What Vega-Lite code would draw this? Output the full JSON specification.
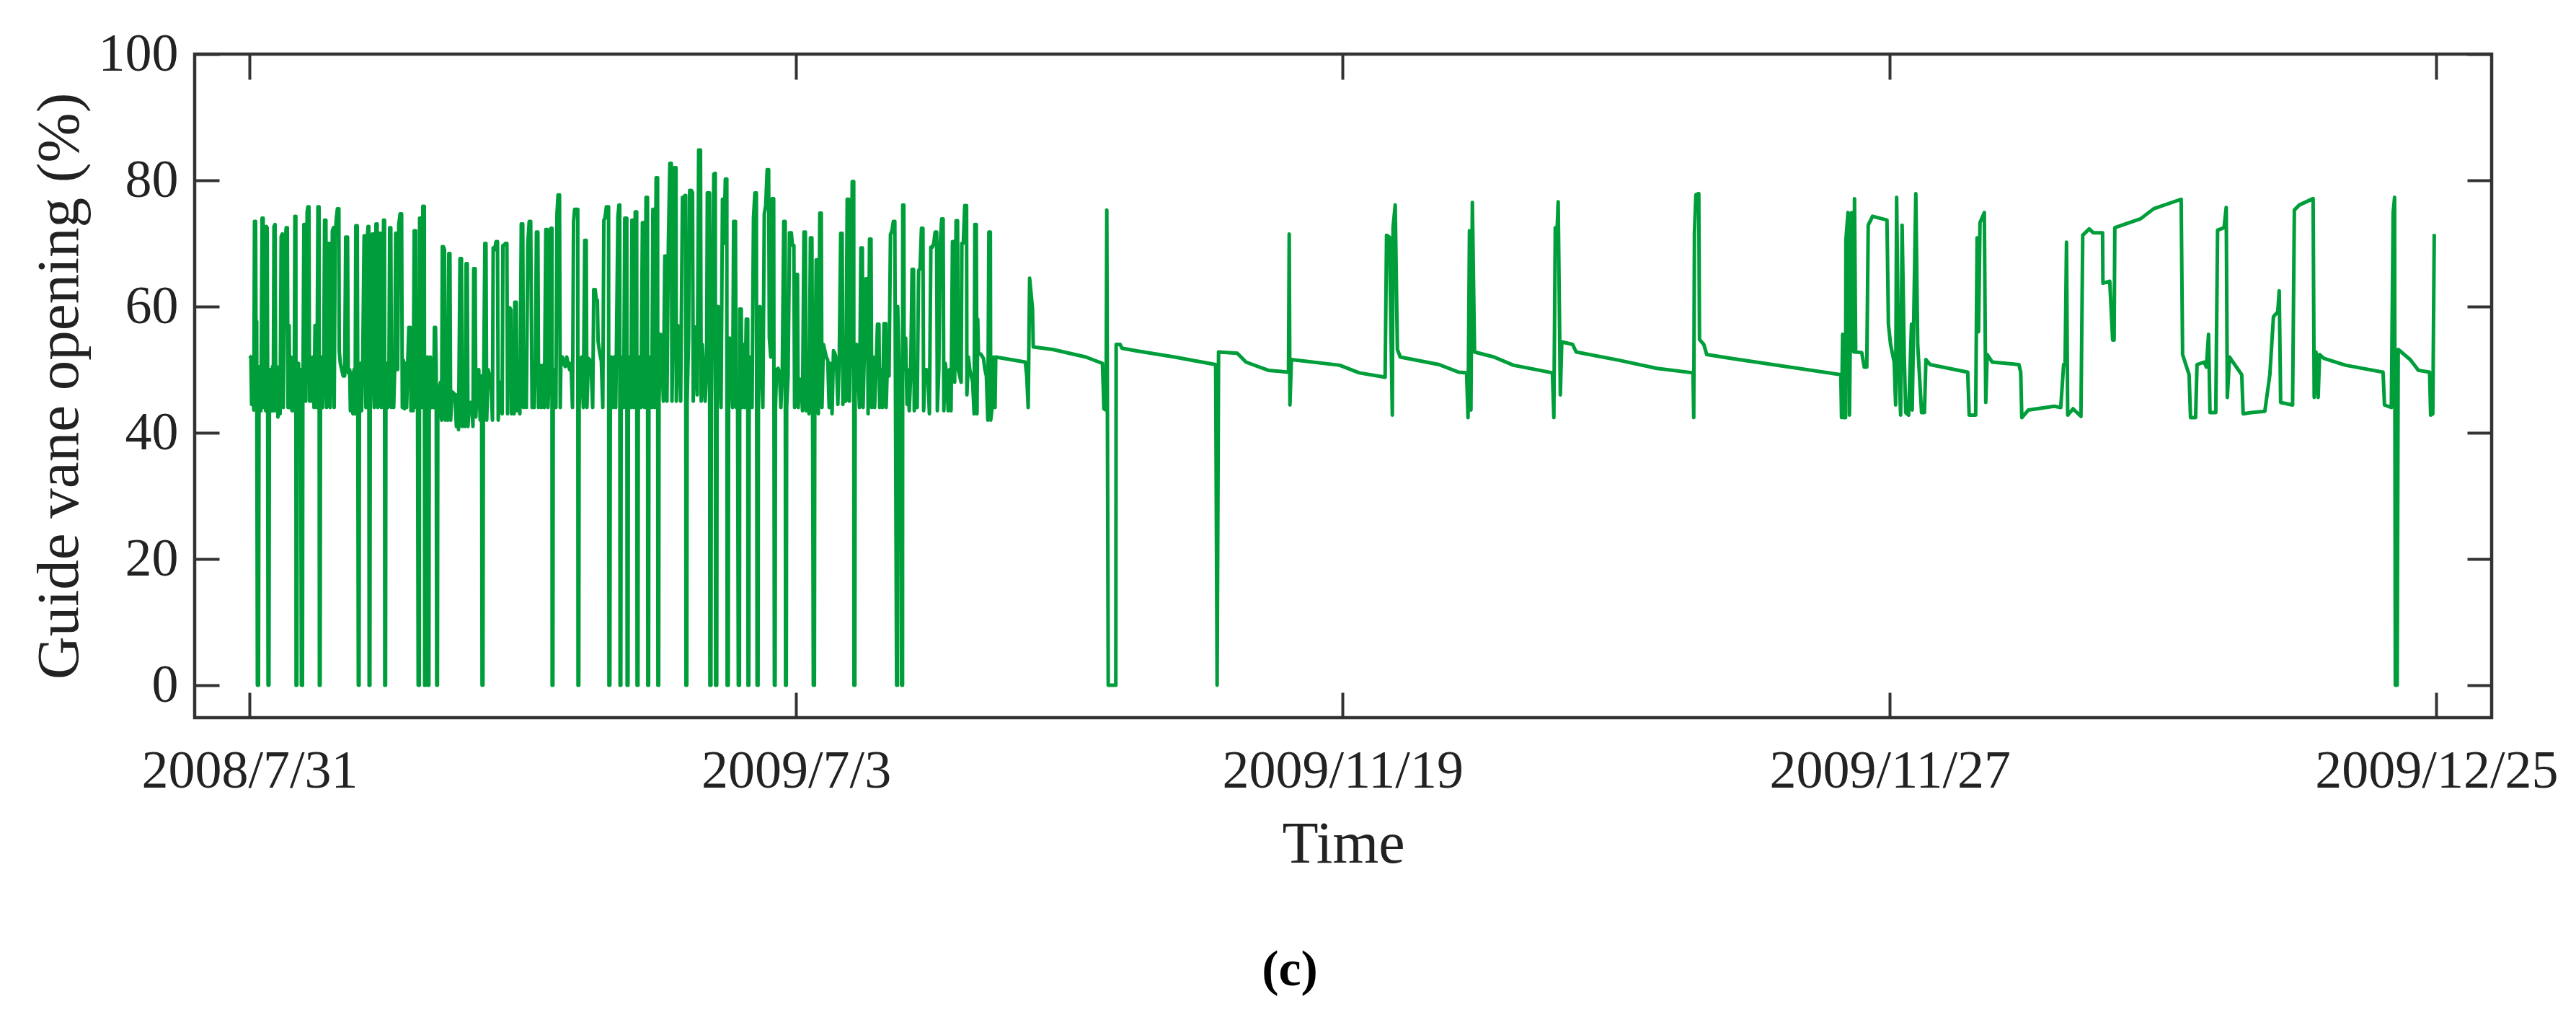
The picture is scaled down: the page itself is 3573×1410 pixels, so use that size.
{"$schema":"https://vega.github.io/schema/vega-lite/v6.json","autosize":"none","padding":{"left":270,"top":75,"right":117,"bottom":415},"width":3186,"height":920,"background":"white","title":{"text":"(c)","orient":"bottom","anchor":"middle","dx":-74,"offset":100,"font":"Liberation Serif","fontSize":70,"fontWeight":"bold","color":"black"},"config":{"view":{"stroke":"#333333","strokeWidth":4.5}},"data":{"values":[
{"t":0,"v":52.2},{"t":2,"v":52},{"t":3,"v":44.5},{"t":4.5,"v":51},{"t":6,"v":43.6},{"t":7,"v":73.5},{"t":8.5,"v":73.5},{"t":9.2,"v":50},{"t":10,"v":57.7},{"t":11,"v":0},{"t":12.5,"v":0},{"t":13.2,"v":43},{"t":14.5,"v":50.5},{"t":16,"v":43.5},{"t":17.5,"v":74},{"t":19,"v":74},{"t":20,"v":44},{"t":21.5,"v":51},{"t":22.5,"v":43.5},{"t":23.5,"v":72.7},{"t":24.5,"v":72.5},{"t":25.2,"v":50},{"t":25.8,"v":0},{"t":27,"v":0},{"t":27.6,"v":43},{"t":29,"v":50},{"t":30.5,"v":43.5},{"t":32,"v":50.5},{"t":33,"v":43.5},{"t":34,"v":72.7},{"t":35.5,"v":73},{"t":36.5,"v":43.5},{"t":38,"v":50.5},{"t":39.5,"v":42.5},{"t":41,"v":50},{"t":42.5,"v":43},{"t":44,"v":71.1},{"t":45.5,"v":71.5},{"t":47,"v":44},{"t":49,"v":70},{"t":51,"v":72.5},{"t":52.5,"v":72.5},{"t":53.5,"v":44},{"t":55,"v":57},{"t":56,"v":44},{"t":57.5,"v":52},{"t":59,"v":43.5},{"t":60.5,"v":51},{"t":62,"v":43.5},{"t":63,"v":74.3},{"t":64.3,"v":74.3},{"t":64.7,"v":0},{"t":65.7,"v":0},{"t":66.3,"v":44},{"t":68,"v":51},{"t":69.5,"v":44},{"t":71,"v":50},{"t":72,"v":0},{"t":73.5,"v":0},{"t":74,"v":44},{"t":75.5,"v":73},{"t":77,"v":73},{"t":78,"v":45},{"t":80,"v":75},{"t":81,"v":75.8},{"t":82.5,"v":75.8},{"t":83.3,"v":45},{"t":85,"v":51},{"t":86.5,"v":45},{"t":88,"v":52},{"t":89.5,"v":44},{"t":91,"v":57},{"t":92.5,"v":57},{"t":93.5,"v":44},{"t":95,"v":75.8},{"t":96.5,"v":75.8},{"t":97,"v":0},{"t":98,"v":0},{"t":98.5,"v":44},{"t":100,"v":52},{"t":101.5,"v":44},{"t":103,"v":50},{"t":104.2,"v":73.7},{"t":106,"v":73.7},{"t":107,"v":44},{"t":108.5,"v":51},{"t":109.5,"v":70},{"t":111,"v":70},{"t":112,"v":44},{"t":113.5,"v":52},{"t":115,"v":72},{"t":116.5,"v":72.5},{"t":117.5,"v":44},{"t":119,"v":71},{"t":120.5,"v":74},{"t":122,"v":75.5},{"t":124,"v":75.5},{"t":124.5,"v":53},{"t":126,"v":51},{"t":128,"v":50},{"t":130,"v":49},{"t":132,"v":49},{"t":133.5,"v":71},{"t":136,"v":71},{"t":137,"v":49.5},{"t":139,"v":50},{"t":140,"v":43.5},{"t":141,"v":43.5},{"t":142,"v":49.5},{"t":143.5,"v":43},{"t":145,"v":50},{"t":146.5,"v":43},{"t":147.5,"v":72.8},{"t":149.5,"v":72.8},{"t":150.3,"v":44},{"t":151,"v":0},{"t":152,"v":0},{"t":152.5,"v":44},{"t":154,"v":51},{"t":155.5,"v":43.5},{"t":157,"v":50.5},{"t":159,"v":71.2},{"t":160.5,"v":71.2},{"t":161.5,"v":44},{"t":163,"v":70},{"t":164.5,"v":72.7},{"t":165.5,"v":72.7},{"t":166,"v":0},{"t":167,"v":0},{"t":167.5,"v":44},{"t":169,"v":51},{"t":170.5,"v":71.5},{"t":172,"v":71.5},{"t":173,"v":44},{"t":174.5,"v":51},{"t":175.5,"v":73.1},{"t":177,"v":73.1},{"t":178,"v":44},{"t":179.5,"v":51},{"t":180.5,"v":71.6},{"t":182,"v":71.6},{"t":183,"v":44},{"t":184.5,"v":51},{"t":186,"v":73.7},{"t":187.3,"v":73.7},{"t":187.7,"v":0},{"t":188.7,"v":0},{"t":189.2,"v":44},{"t":190.5,"v":51},{"t":192,"v":44},{"t":193.5,"v":50.5},{"t":194.5,"v":72.5},{"t":196,"v":72.5},{"t":197,"v":44},{"t":198.5,"v":51},{"t":200,"v":44},{"t":201.5,"v":50.5},{"t":202.8,"v":71.6},{"t":204.5,"v":71.6},{"t":205.5,"v":50},{"t":207,"v":73},{"t":209,"v":74.7},{"t":211,"v":74.7},{"t":212,"v":44},{"t":213.5,"v":51.5},{"t":215,"v":43.8},{"t":216.5,"v":51},{"t":218,"v":44},{"t":219.5,"v":51},{"t":221,"v":56.7},{"t":223,"v":56.7},{"t":224,"v":43.5},{"t":225.5,"v":51},{"t":227,"v":43.5},{"t":228.5,"v":72},{"t":230.5,"v":72},{"t":231.5,"v":44},{"t":233,"v":52},{"t":234,"v":0},{"t":235.5,"v":0},{"t":236,"v":74},{"t":237.5,"v":74},{"t":238.5,"v":44},{"t":240.5,"v":75.9},{"t":242.5,"v":75.9},{"t":243,"v":0},{"t":244,"v":0},{"t":244.5,"v":52},{"t":246,"v":43.5},{"t":247.2,"v":52},{"t":247.8,"v":0},{"t":248.8,"v":0},{"t":249.3,"v":44},{"t":251,"v":52},{"t":252.5,"v":44},{"t":254,"v":51},{"t":255.5,"v":44},{"t":256.5,"v":56.7},{"t":258,"v":56.7},{"t":259,"v":50},{"t":259.7,"v":0},{"t":260.7,"v":0},{"t":261.2,"v":42},{"t":263,"v":47},{"t":265,"v":48},{"t":266.5,"v":42},{"t":267.5,"v":69.5},{"t":269,"v":69.5},{"t":270.5,"v":69},{"t":271.5,"v":42},{"t":273,"v":47},{"t":275,"v":42},{"t":276.5,"v":68.4},{"t":278,"v":68.4},{"t":279,"v":42},{"t":281,"v":46.5},{"t":283,"v":46.3},{"t":285,"v":46},{"t":287,"v":41},{"t":288,"v":46},{"t":290,"v":40.5},{"t":292,"v":67.6},{"t":294,"v":67.6},{"t":295,"v":41},{"t":297,"v":46},{"t":299,"v":41},{"t":300.5,"v":66.8},{"t":302,"v":66.8},{"t":303,"v":41},{"t":305,"v":44.8},{"t":308,"v":44.8},{"t":310,"v":41},{"t":311,"v":66},{"t":313,"v":66},{"t":314,"v":42.5},{"t":316,"v":49},{"t":318,"v":50},{"t":320,"v":42},{"t":322,"v":49},{"t":322.6,"v":0},{"t":323.8,"v":0},{"t":324.4,"v":43},{"t":326.5,"v":70},{"t":328,"v":70},{"t":329,"v":42},{"t":331,"v":50},{"t":333,"v":49},{"t":335,"v":48},{"t":337,"v":42},{"t":338,"v":69.3},{"t":340,"v":69},{"t":342,"v":70.3},{"t":344,"v":70.3},{"t":345,"v":42},{"t":347,"v":48},{"t":349,"v":48},{"t":350.5,"v":43},{"t":351.5,"v":69.7},{"t":353,"v":69.7},{"t":355,"v":70},{"t":357,"v":70},{"t":358,"v":43},{"t":359.5,"v":59.8},{"t":361,"v":59.8},{"t":362.5,"v":59.5},{"t":363.5,"v":43},{"t":365,"v":48},{"t":367,"v":43},{"t":368,"v":60.7},{"t":370,"v":60.7},{"t":371,"v":43.5},{"t":373,"v":50},{"t":375,"v":43},{"t":377,"v":73.1},{"t":379,"v":73.1},{"t":380,"v":44},{"t":382,"v":51},{"t":384,"v":44},{"t":386,"v":70},{"t":388,"v":73.5},{"t":390,"v":73.5},{"t":392,"v":44},{"t":393.5,"v":51},{"t":395,"v":44},{"t":396.5,"v":50.5},{"t":398,"v":71.8},{"t":400,"v":71.8},{"t":401,"v":44},{"t":403,"v":50.7},{"t":405,"v":44},{"t":407,"v":50.7},{"t":409,"v":44},{"t":411,"v":72.2},{"t":413,"v":72.2},{"t":414,"v":44},{"t":416,"v":50.5},{"t":418,"v":72.4},{"t":419.5,"v":72.4},{"t":419.8,"v":0},{"t":420.8,"v":0},{"t":421.3,"v":44},{"t":423,"v":50},{"t":425,"v":44},{"t":426.5,"v":74.7},{"t":428,"v":77.7},{"t":430,"v":77.7},{"t":431,"v":44},{"t":432,"v":52},{"t":434,"v":52},{"t":436,"v":51},{"t":438,"v":50.5},{"t":440,"v":52},{"t":442,"v":51},{"t":444,"v":50},{"t":446,"v":51},{"t":448,"v":44},{"t":449.5,"v":73.5},{"t":451,"v":75.4},{"t":454,"v":75.4},{"t":455.3,"v":75.4},{"t":455.7,"v":0},{"t":456.7,"v":0},{"t":457.2,"v":44},{"t":459,"v":51.8},{"t":461,"v":52},{"t":463,"v":44},{"t":465,"v":70.5},{"t":467,"v":70.5},{"t":468,"v":44},{"t":470,"v":51.8},{"t":472,"v":51.5},{"t":474,"v":50},{"t":476,"v":44},{"t":477.5,"v":62.7},{"t":479.5,"v":62.7},{"t":481,"v":61},{"t":482.5,"v":61},{"t":483.5,"v":54.5},{"t":486,"v":52.5},{"t":488,"v":51.4},{"t":490,"v":44},{"t":491.5,"v":73.7},{"t":493,"v":74},{"t":495,"v":75.8},{"t":498,"v":75.8},{"t":498.6,"v":0},{"t":499.8,"v":0},{"t":500.4,"v":44},{"t":502,"v":52},{"t":504,"v":44},{"t":506,"v":52},{"t":508,"v":44},{"t":511,"v":74.3},{"t":512.5,"v":76.1},{"t":513.5,"v":76.1},{"t":514,"v":0},{"t":515,"v":0},{"t":515.5,"v":44},{"t":517,"v":52},{"t":519,"v":44},{"t":520.5,"v":74},{"t":523.3,"v":74},{"t":523.8,"v":0},{"t":525,"v":0},{"t":525.5,"v":44},{"t":527,"v":52},{"t":529,"v":44},{"t":530.5,"v":73.7},{"t":532,"v":73.7},{"t":533,"v":44},{"t":535,"v":75},{"t":537,"v":75},{"t":537.6,"v":0},{"t":538.8,"v":0},{"t":539.3,"v":44},{"t":541,"v":52},{"t":543,"v":44},{"t":545,"v":73.3},{"t":547,"v":73.3},{"t":548,"v":44},{"t":550,"v":77.3},{"t":552,"v":77.3},{"t":552.5,"v":0},{"t":553.5,"v":0},{"t":554,"v":44},{"t":556,"v":52},{"t":558,"v":44},{"t":559.5,"v":75.4},{"t":561,"v":75.4},{"t":562,"v":44},{"t":564,"v":80.4},{"t":566,"v":80.4},{"t":566.5,"v":0},{"t":567.5,"v":0},{"t":568,"v":45},{"t":570,"v":55.6},{"t":572,"v":53},{"t":574,"v":45},{"t":576,"v":68},{"t":578,"v":68},{"t":579,"v":45},{"t":581,"v":70},{"t":583,"v":82.7},{"t":585,"v":82.7},{"t":586,"v":45},{"t":588,"v":60},{"t":589.5,"v":82},{"t":591.5,"v":82},{"t":592,"v":45},{"t":594,"v":57},{"t":596,"v":55},{"t":598,"v":45},{"t":600.5,"v":77.3},{"t":602,"v":77.3},{"t":604,"v":77.6},{"t":605,"v":77.6},{"t":605.4,"v":0},{"t":606.5,"v":0},{"t":607,"v":45},{"t":609,"v":55},{"t":610.5,"v":78.4},{"t":613,"v":78.4},{"t":614.5,"v":78},{"t":615.5,"v":45},{"t":617,"v":56.8},{"t":619,"v":55},{"t":621,"v":46},{"t":623,"v":84.8},{"t":625.5,"v":84.8},{"t":626.5,"v":45},{"t":628,"v":54},{"t":630,"v":50},{"t":632,"v":45},{"t":634,"v":50},{"t":635,"v":78},{"t":638,"v":78},{"t":638.6,"v":0},{"t":640,"v":0},{"t":640.5,"v":45},{"t":642,"v":60},{"t":644,"v":81},{"t":646,"v":81.1},{"t":646.5,"v":0},{"t":648,"v":0},{"t":648.5,"v":44},{"t":650,"v":60},{"t":652,"v":54},{"t":654,"v":44},{"t":656,"v":77},{"t":658,"v":70},{"t":660,"v":80.2},{"t":662,"v":80.2},{"t":662.5,"v":0},{"t":664,"v":0},{"t":664.5,"v":44},{"t":666,"v":55},{"t":668,"v":53},{"t":670,"v":44},{"t":671.5,"v":73.5},{"t":674,"v":73.5},{"t":675,"v":44},{"t":677,"v":44},{"t":678,"v":0},{"t":679.5,"v":0},{"t":680,"v":59.6},{"t":682,"v":59.6},{"t":683,"v":44},{"t":685,"v":54},{"t":687,"v":44},{"t":689,"v":58},{"t":691,"v":58},{"t":691.5,"v":0},{"t":692.5,"v":0},{"t":693,"v":44},{"t":695,"v":52},{"t":697,"v":44},{"t":699,"v":74},{"t":701,"v":78},{"t":703,"v":78},{"t":704,"v":0},{"t":705.3,"v":0},{"t":705.8,"v":44},{"t":708,"v":60},{"t":710,"v":52},{"t":712,"v":44},{"t":714,"v":74.7},{"t":716,"v":76},{"t":718,"v":81.7},{"t":720,"v":81.7},{"t":721,"v":55},{"t":723,"v":52},{"t":725,"v":77.1},{"t":727,"v":77.1},{"t":728,"v":0},{"t":729,"v":0},{"t":729.5,"v":44},{"t":731,"v":50},{"t":733,"v":50.2},{"t":735,"v":49.6},{"t":737,"v":44},{"t":739,"v":50},{"t":741,"v":73.5},{"t":743,"v":73.5},{"t":743.5,"v":0},{"t":744.5,"v":0},{"t":745,"v":44},{"t":747,"v":49},{"t":749,"v":71.7},{"t":751.5,"v":71.7},{"t":753,"v":69.7},{"t":755,"v":69.7},{"t":756,"v":44},{"t":758,"v":65.1},{"t":760,"v":65.1},{"t":761,"v":44},{"t":763,"v":48.5},{"t":765,"v":48.4},{"t":767,"v":43.5},{"t":769,"v":71.8},{"t":771,"v":71.8},{"t":772,"v":43.5},{"t":774,"v":48.4},{"t":776,"v":43},{"t":778,"v":70.9},{"t":780,"v":70.9},{"t":781,"v":43.5},{"t":782,"v":0},{"t":783.5,"v":0},{"t":784,"v":43},{"t":786,"v":67.4},{"t":788,"v":67.4},{"t":789,"v":43},{"t":791,"v":74.8},{"t":793,"v":74.8},{"t":794,"v":44},{"t":796,"v":54},{"t":798,"v":53},{"t":800,"v":52},{"t":802,"v":51.5},{"t":804,"v":44},{"t":806,"v":51},{"t":808,"v":43},{"t":810,"v":53},{"t":812,"v":52.5},{"t":814,"v":51.5},{"t":816,"v":44.5},{"t":818,"v":52},{"t":820,"v":71.6},{"t":822,"v":71.6},{"t":823,"v":44.5},{"t":825,"v":50},{"t":827,"v":45},{"t":829,"v":77},{"t":831,"v":77},{"t":832,"v":45},{"t":834,"v":55},{"t":836,"v":79.8},{"t":838,"v":79.8},{"t":838.4,"v":0},{"t":839.6,"v":0},{"t":840,"v":46},{"t":842,"v":54},{"t":844,"v":50},{"t":846,"v":44},{"t":848,"v":69.3},{"t":850,"v":69.3},{"t":851,"v":44},{"t":853,"v":54},{"t":855,"v":64.4},{"t":857,"v":64.4},{"t":858,"v":43},{"t":860,"v":70.7},{"t":862,"v":70.7},{"t":863,"v":44},{"t":865,"v":52},{"t":867,"v":44},{"t":869,"v":50},{"t":871,"v":57.2},{"t":873,"v":57.2},{"t":874,"v":44},{"t":876,"v":50},{"t":878,"v":44},{"t":880,"v":57.3},{"t":882.5,"v":57.3},{"t":883,"v":44},{"t":885,"v":52},{"t":887,"v":49},{"t":889,"v":71.4},{"t":891,"v":72},{"t":893,"v":73.5},{"t":895,"v":73.5},{"t":896,"v":44},{"t":897.5,"v":0},{"t":898.7,"v":0},{"t":899,"v":60},{"t":901,"v":51},{"t":903,"v":50},{"t":904.5,"v":0},{"t":905.7,"v":0},{"t":906,"v":76.1},{"t":907.5,"v":76.1},{"t":908,"v":50},{"t":910,"v":55},{"t":912,"v":44.5},{"t":913,"v":50},{"t":915,"v":43.5},{"t":917,"v":49},{"t":919,"v":65.9},{"t":921,"v":65.9},{"t":922,"v":43.5},{"t":924,"v":50},{"t":926,"v":44},{"t":928,"v":65.7},{"t":930,"v":66},{"t":932,"v":72.4},{"t":934,"v":72.4},{"t":935,"v":43.5},{"t":937,"v":50},{"t":939,"v":50},{"t":941,"v":49},{"t":943,"v":43},{"t":945,"v":69.4},{"t":947,"v":69.4},{"t":949,"v":70},{"t":951,"v":71.8},{"t":953,"v":71.8},{"t":954,"v":43.5},{"t":956,"v":50},{"t":958,"v":70},{"t":960,"v":73.9},{"t":962,"v":73.9},{"t":963,"v":43.5},{"t":965,"v":51},{"t":967,"v":49},{"t":969,"v":43.5},{"t":971,"v":50},{"t":973,"v":43.5},{"t":975,"v":70.3},{"t":977,"v":70.3},{"t":978,"v":48},{"t":980,"v":73.6},{"t":982,"v":73.6},{"t":983,"v":50},{"t":985,"v":49},{"t":987,"v":48},{"t":988,"v":70},{"t":990,"v":70},{"t":992,"v":76},{"t":994.5,"v":76},{"t":995,"v":46},{"t":997,"v":52},{"t":999,"v":50},{"t":1001,"v":49},{"t":1003,"v":48},{"t":1005,"v":43},{"t":1006,"v":73},{"t":1008,"v":73},{"t":1009,"v":43},{"t":1010,"v":58},{"t":1011,"v":52.5},{"t":1014,"v":52.5},{"t":1018,"v":51.8},{"t":1020,"v":50},{"t":1022,"v":49},{"t":1024,"v":42},{"t":1025.5,"v":71.8},{"t":1027.5,"v":71.8},{"t":1028,"v":42},{"t":1030,"v":44},{"t":1032,"v":52},{"t":1034,"v":44},{"t":1035,"v":52},
{"t":1076,"v":51.2},{"t":1078,"v":49},{"t":1080,"v":44},{"t":1082,"v":64.5},{"t":1086,"v":59.6},{"t":1087,"v":53.6},{"t":1114,"v":53.2},{"t":1160,"v":52},{"t":1183,"v":51},{"t":1185,"v":43.8},{"t":1188,"v":43.6},{"t":1189,"v":75.3},{"t":1191,"v":0},{"t":1201.5,"v":0},{"t":1202,"v":54},{"t":1207.5,"v":54},{"t":1210,"v":53.4},{"t":1229,"v":53},{"t":1283,"v":52},{"t":1340,"v":50.8},{"t":1342,"v":0},{"t":1344,"v":52.8},{"t":1370,"v":52.6},{"t":1382,"v":51.2},{"t":1413,"v":49.9},{"t":1441,"v":49.6},{"t":1442,"v":71.5},{"t":1443,"v":44.4},{"t":1445,"v":51.6},{"t":1512,"v":50.7},{"t":1539,"v":49.5},{"t":1575,"v":48.8},{"t":1577,"v":71.3},{"t":1581,"v":71},{"t":1585,"v":42.8},{"t":1586,"v":72.5},{"t":1589,"v":76.1},{"t":1592,"v":53.2},{"t":1596,"v":52},{"t":1650,"v":50.8},{"t":1677,"v":49.6},{"t":1688,"v":49.5},{"t":1690,"v":42.4},{"t":1692,"v":72},{"t":1694,"v":43.6},{"t":1696,"v":76.5},{"t":1699,"v":52.8},{"t":1726,"v":52},{"t":1753,"v":50.7},{"t":1807,"v":49.5},{"t":1809,"v":42.4},{"t":1811,"v":72.5},{"t":1813,"v":70.5},{"t":1815,"v":76.6},{"t":1818,"v":46},{"t":1820,"v":54.4},{"t":1835,"v":54},{"t":1840,"v":52.8},{"t":1899,"v":51.5},{"t":1952,"v":50.2},{"t":2002,"v":49.5},{"t":2003,"v":42.4},{"t":2004,"v":71.7},{"t":2006,"v":77.7},{"t":2010,"v":77.9},{"t":2011,"v":54.8},{"t":2017,"v":54},{"t":2021,"v":52.4},{"t":2054,"v":51.8},{"t":2207,"v":49.2},{"t":2208,"v":42.4},{"t":2209.5,"v":55.6},{"t":2211,"v":42.4},{"t":2213.6,"v":42.4},{"t":2214,"v":70.5},{"t":2217,"v":74.9},{"t":2219,"v":42.8},{"t":2222,"v":74.9},{"t":2225,"v":52.8},{"t":2226,"v":77.1},{"t":2227.6,"v":52.8},{"t":2236,"v":52.7},{"t":2239.5,"v":50.4},{"t":2243,"v":50.4},{"t":2245,"v":72.9},{"t":2251,"v":74.3},{"t":2271,"v":73.7},{"t":2273,"v":57.2},{"t":2276,"v":54},{"t":2281,"v":51.2},{"t":2283,"v":44.4},{"t":2284.4,"v":77.3},{"t":2287,"v":51.6},{"t":2290,"v":42.8},{"t":2292,"v":72.9},{"t":2295,"v":52},{"t":2297,"v":43.2},{"t":2301,"v":42.8},{"t":2305,"v":57.2},{"t":2306,"v":43.6},{"t":2308,"v":57.2},{"t":2311,"v":77.9},{"t":2313.6,"v":54},{"t":2319,"v":43.2},{"t":2323,"v":43.2},{"t":2325,"v":51.6},{"t":2328,"v":51.2},{"t":2331,"v":50.8},{"t":2383,"v":49.6},{"t":2385,"v":42.8},{"t":2394,"v":42.8},{"t":2396,"v":70.9},{"t":2398,"v":56},{"t":2400,"v":73.3},{"t":2406,"v":74.9},{"t":2408,"v":44.8},{"t":2410,"v":52.4},{"t":2417,"v":51.2},{"t":2454,"v":50.8},{"t":2456.5,"v":49.6},{"t":2458,"v":42.4},{"t":2467,"v":43.6},{"t":2503,"v":44.2},{"t":2512,"v":44},{"t":2516,"v":50.8},{"t":2518,"v":50.8},{"t":2520,"v":70.2},{"t":2521.6,"v":42.8},{"t":2529,"v":43.8},{"t":2540,"v":42.6},{"t":2542.5,"v":71.3},{"t":2551.5,"v":72.3},{"t":2557,"v":71.7},{"t":2570,"v":71.7},{"t":2570.5,"v":63.7},{"t":2580,"v":64},{"t":2584,"v":54.7},{"t":2586,"v":54.7},{"t":2587,"v":72.5},{"t":2622.6,"v":73.9},{"t":2641,"v":75.5},{"t":2679,"v":77},{"t":2681,"v":52.4},{"t":2690,"v":49.2},{"t":2692,"v":42.4},{"t":2699,"v":42.4},{"t":2701,"v":50.8},{"t":2711,"v":51.2},{"t":2714,"v":50.4},{"t":2717,"v":55.6},{"t":2719,"v":43.2},{"t":2727,"v":43.2},{"t":2729.5,"v":72.1},{"t":2738.5,"v":72.5},{"t":2741.5,"v":75.7},{"t":2743,"v":45.6},{"t":2746,"v":52},{"t":2763,"v":49.2},{"t":2765,"v":43},{"t":2776,"v":43.2},{"t":2795,"v":43.4},{"t":2802,"v":49.2},{"t":2807,"v":58.4},{"t":2813,"v":59.2},{"t":2815,"v":62.5},{"t":2817,"v":44.8},{"t":2833.5,"v":44.4},{"t":2836,"v":75.3},{"t":2843,"v":76.1},{"t":2862,"v":77.1},{"t":2863.5,"v":45.6},{"t":2866,"v":52.8},{"t":2869,"v":45.6},{"t":2871,"v":52.4},{"t":2877,"v":51.8},{"t":2907,"v":50.7},{"t":2959,"v":49.6},{"t":2961,"v":44.4},{"t":2970.5,"v":44},{"t":2973,"v":74.9},{"t":2975,"v":77.3},{"t":2976,"v":0},{"t":2978.6,"v":0},{"t":2980,"v":53.2},{"t":2996.6,"v":51.6},{"t":3008,"v":49.9},{"t":3023.5,"v":49.6},{"t":3025,"v":42.8},{"t":3028,"v":43},{"t":3030,"v":71.5}
]},
"layer":[
{"mark":{"type":"line","color":"#009e3a","strokeWidth":5,"strokeJoin":"round"},
"encoding":{
"x":{"field":"t","type":"quantitative","scale":{"domain":[-76,3109.6],"nice":false,"zero":false},"axis":{"orient":"bottom","values":[0,758,1516,2275,3033],"labelExpr":"datum.value==0?'2008/7/31':datum.value==758?'2009/7/3':datum.value==1516?'2009/11/19':datum.value==2275?'2009/11/27':'2009/12/25'","title":"Time","grid":false,"domain":false,"tickSize":-35,"tickWidth":4,"tickColor":"#333333","labelFont":"Liberation Serif","labelFontSize":74,"labelColor":"#222222","labelPadding":73,"labelLimit":0,"titleFont":"Liberation Serif","titleFontSize":82,"titleFontWeight":"normal","titleColor":"#222222","titlePadding":24,"labelOverlap":false,"labelFlush":false}},
"y":{"field":"v","type":"quantitative","scale":{"domain":[-5.14,100],"nice":false,"zero":false},"axis":{"orient":"left","values":[0,20,40,60,80,100],"title":"Guide vane opening (%)","grid":false,"domain":false,"tickSize":-34,"tickWidth":4,"tickColor":"#333333","labelFont":"Liberation Serif","labelFontSize":74,"labelColor":"#222222","labelPadding":57,"titleFont":"Liberation Serif","titleFontSize":83,"titleFontWeight":"normal","titleColor":"#222222","titlePadding":12,"labelOverlap":false}}}},
{"mark":{"type":"line","opacity":0},
"encoding":{
"x":{"field":"t","type":"quantitative","scale":{"domain":[-76,3109.6],"nice":false,"zero":false},"axis":{"orient":"top","values":[0,758,1516,2275,3033],"labels":false,"title":null,"grid":false,"domain":false,"tickSize":-35,"tickWidth":4,"tickColor":"#333333"}},
"y":{"field":"v","type":"quantitative","scale":{"domain":[-5.14,100],"nice":false,"zero":false},"axis":{"orient":"right","values":[0,20,40,60,80,100],"labels":false,"title":null,"grid":false,"domain":false,"tickSize":-34,"tickWidth":4,"tickColor":"#333333"}}}}
],
"resolve":{"axis":{"x":"independent","y":"independent"}}
}
